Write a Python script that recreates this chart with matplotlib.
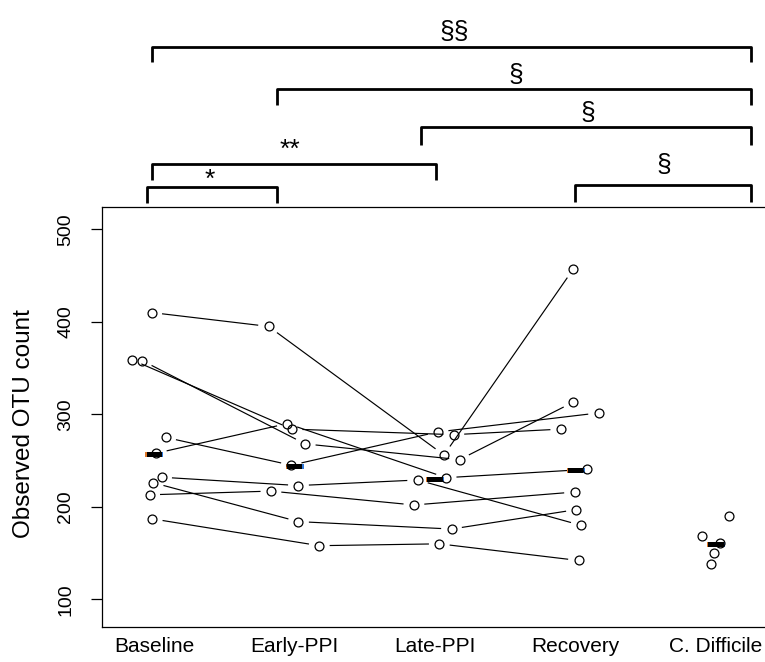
import numpy as np
import matplotlib
matplotlib.use('Agg')
import matplotlib.pyplot as plt
from matplotlib.patches import Rectangle

plt.rcParams['font.family'] = ['Liberation Sans', 'DejaVu Sans']

categories = ['Baseline', 'Early-PPI', 'Late-PPI', 'Recovery', 'C. Difficile']

# per-subject values (same subject order in each timepoint list)
baseline = [410, 359, 358, 275, 258, 232, 213, 226, 187]
early    = [395, 284, 268, 245, 290, 223, 217, 184, 158]
late     = [256, 278, 251, 281, 231.5, 229, 202, 176, 160]
recovery = [457, 284, 313, 301.5, 240.5, 180, 216, 197, 142]
cdiff    = [190, 168, 161, 150, 138]

# horizontal jitter of each point (category units)
jit_baseline = [-0.018, -0.160, -0.085, 0.082, 0.016, 0.052, -0.033, -0.006, -0.014]
jit_early    = [-0.186, -0.019, 0.075, -0.024, -0.053, 0.027, -0.169, 0.027, 0.175]
jit_late     = [0.063, 0.133, 0.174, 0.021, 0.078, -0.124, -0.151, 0.117, 0.030]
jit_recovery = [-0.016, -0.105, -0.018, 0.164, 0.080, 0.039, -0.007, 0.006, 0.021]
jit_cdiff    = [0.090, -0.097, 0.030, -0.016, -0.036]

# significance brackets
bracket_left   = [0.982, 1.873, 2.900, 0.982, 0.946, 3.996]
bracket_right  = [5.249, 5.249, 5.249, 3.006, 1.873, 5.249]
bracket_top    = [697.4, 651.4, 610.9, 570.6, 546.1, 548.0]
bracket_leg    = [16.5, 17.0, 20.0, 17.5, 18.0, 18.5]
bracket_labels = ['§§', '§', '§', '**', '*', '§']
label_x        = [3.135, 3.573, 4.087, 1.967, 1.393, 4.630]
label_y        = [713.3, 666.8, 625.7, 585.5, 553.5, 569.6]

W, H = 765, 662
fig = plt.figure(figsize=(W / 100, H / 100), dpi=100)
ax = fig.add_axes([102 / W, 1 - 627 / H, 1 - 102 / W, (627 - 207) / H])
ax.set_xlim(0.628, 5.349)
ax.set_ylim(70.1, 524.1)

groups = [baseline, early, late, recovery, cdiff]
jits = [jit_baseline, jit_early, jit_late, jit_recovery, jit_cdiff]
xs = [[i + 1 + j for j in jit] for i, jit in enumerate(jits)]

inv = ax.transData.inverted()
gap = 11.0
# subject lines across the four timepoints (type="b" style gaps)
for s in range(len(baseline)):
    for g in range(3):
        p0 = ax.transData.transform((xs[g][s], groups[g][s]))
        p1 = ax.transData.transform((xs[g + 1][s], groups[g + 1][s]))
        d = p1 - p0
        L = np.hypot(*d)
        if L <= 2 * gap:
            continue
        u = d / L
        a = inv.transform(p0 + u * gap)
        b = inv.transform(p1 - u * gap)
        ax.plot([a[0], b[0]], [a[1], b[1]], color='black', lw=0.85, zorder=2)

# median bars
bw = 0.064
bh = 5.4
for i, vals in enumerate(groups):
    med = float(np.median(vals))
    c = i + 1
    y0 = med - 1.5 - bh / 2
    ax.add_patch(Rectangle((c - bw, y0), 2 * bw, bh, facecolor='black',
                           edgecolor='none', zorder=3))
    ax.add_patch(Rectangle((c - bw, y0), 0.009, bh, facecolor='#e07a2a',
                           edgecolor='none', zorder=3.1))
    ax.add_patch(Rectangle((c + bw - 0.009, y0), 0.009, bh, facecolor='#2f78d8',
                           edgecolor='none', zorder=3.1))

# points
for i in range(5):
    ax.plot(xs[i], groups[i], linestyle='none', marker='o', markersize=6.4,
            markerfacecolor='none', markeredgecolor='black', markeredgewidth=0.9,
            zorder=4)

# axes styling
for side in ['top', 'bottom', 'left']:
    ax.spines[side].set_linewidth(0.9)
ax.spines['right'].set_visible(False)
ax.set_yticks([100, 200, 300, 400, 500])
ax.set_xticks([1, 2, 3, 4, 5])
ax.set_xticklabels(categories, fontsize=15)
ax.tick_params(axis='x', length=0, pad=7.5)
ax.tick_params(axis='y', length=8, width=0.9, pad=12, labelsize=14)
for lab in ax.get_yticklabels():
    lab.set_rotation(90)
    lab.set_va('center')
ax.set_ylabel('Observed OTU count', fontsize=17.5, va='center')
ax.yaxis.set_label_coords(-0.1176, 0.485)

# significance brackets
for k in range(len(bracket_labels)):
    xl, xr, yt, lg = bracket_left[k], bracket_right[k], bracket_top[k], bracket_leg[k]
    ax.plot([xl, xl, xr, xr], [yt - lg, yt, yt, yt - lg], color='black', lw=2.0,
            solid_joinstyle='round', solid_capstyle='butt', clip_on=False)
    ax.text(label_x[k], label_y[k], bracket_labels[k], ha='center', va='center',
            fontsize=19, clip_on=False)

fig.savefig('out.png', dpi=100)
